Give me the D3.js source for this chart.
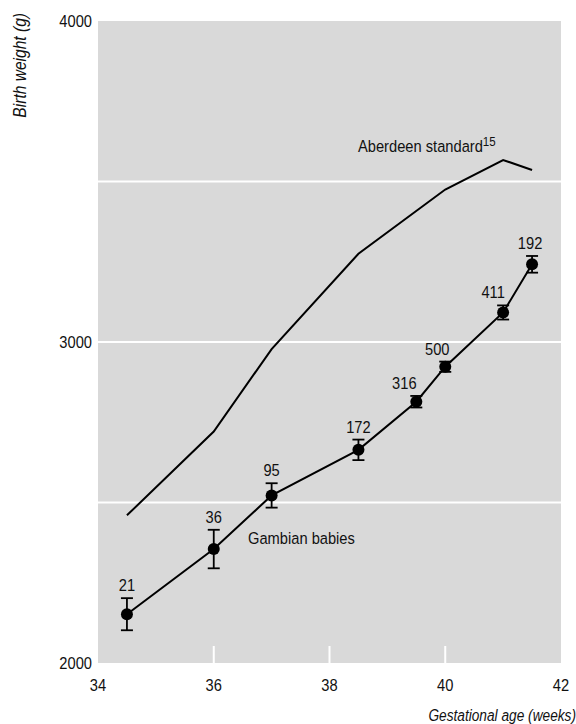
<!DOCTYPE html>
<html>
<head>
<meta charset="utf-8">
<script src="https://cdn.jsdelivr.net/npm/d3@7"></script>
<style>
  html, body { margin: 0; padding: 0; background: #fff; }
  svg text { font-family: "Liberation Sans", Arial, sans-serif; fill: #111; }
</style>
</head>
<body>
<svg id="chart" width="576" height="724"></svg>
<script>
// ---- data ----
const gestWeeks = [34.5, 36, 37, 38.5, 39.5, 40, 41, 41.5];
const gambianMean = [2152, 2355, 2522, 2664, 2814, 2923, 3092, 3242];
const gambianSE = [50, 60, 38, 32, 18, 16, 22, 26];
const sampleSizes = ["21", "36", "95", "172", "316", "500", "411", "192"];
const aberdeenWeeks = [34.5, 36, 37, 38.5, 40, 41, 41.5];
const aberdeenMean = [2460, 2721, 2978, 3275, 3475, 3567, 3536];
const xTicks = [34, 36, 38, 40, 42];
const yTicks = [2000, 3000, 4000];
const gridValues = [2500, 3000, 3500];

// ---- layout ----
const svg = d3.select("#chart");
const x = d3.scaleLinear().domain([34, 42]).range([98, 561]);
const y = d3.scaleLinear().domain([2000, 4000]).range([663, 21]);
const labelShift = [0, 0, 0, 0, -12, -8, -10, -2];
const fs = 16.5;
const squeeze = 0.89;

function txt(parent, px, py, s, opt = {}) {
  const sq = opt.squeeze || squeeze;
  const tr = `translate(${px},${py})` + (opt.rotate ? ` rotate(${opt.rotate})` : "") + ` scale(${sq},1)`;
  const t = parent.append("g").attr("transform", tr).append("text")
    .attr("x", 0).attr("y", 0)
    .attr("text-anchor", opt.anchor || "start")
    .attr("font-size", opt.size || fs);
  if (opt.italic) t.attr("font-style", "italic");
  if (s !== null) t.text(s);
  return t;
}

svg.append("rect")
  .attr("x", x(34)).attr("y", y(4000))
  .attr("width", x(42) - x(34)).attr("height", y(2000) - y(4000))
  .attr("fill", "#d9d9d9");

svg.selectAll("line.grid").data(gridValues).enter().append("line")
  .attr("class", "grid")
  .attr("x1", x(34)).attr("x2", x(42))
  .attr("y1", d => y(d)).attr("y2", d => y(d))
  .attr("stroke", "#fff").attr("stroke-width", 2);

// inner x ticks (white)
svg.selectAll("line.xt").data(xTicks.slice(1, -1)).enter().append("line")
  .attr("class", "xt")
  .attr("x1", d => x(d)).attr("x2", d => x(d))
  .attr("y1", y(2000)).attr("y2", y(2000) - 17)
  .attr("stroke", "#fff").attr("stroke-width", 2);

// axis labels
xTicks.forEach(d => txt(svg, x(d), 691, String(d), { anchor: "middle" }));
yTicks.forEach(d => txt(svg, 92, y(d) + 6, String(d), { anchor: "end" }));

txt(svg, 26, 13, "Birth weight (g)", { anchor: "end", rotate: -90, italic: true, size: 17.5 });
txt(svg, 576, 721, "Gestational age (weeks)", { anchor: "end", italic: true, squeeze: 0.83 });

// Aberdeen line
const aberdeen = aberdeenWeeks.map((w, i) => [w, aberdeenMean[i]]);
const line = d3.line().x(d => x(d[0])).y(d => y(d[1]));
svg.append("path").datum(aberdeen)
  .attr("d", line).attr("fill", "none")
  .attr("stroke", "#000").attr("stroke-width", 2);

// Gambian line
const gambian = gestWeeks.map((w, i) => ({ w, m: gambianMean[i], se: gambianSE[i], n: sampleSizes[i], dx: labelShift[i] }));
svg.append("path").datum(gambian.map(d => [d.w, d.m]))
  .attr("d", line).attr("fill", "none")
  .attr("stroke", "#000").attr("stroke-width", 2);

const g = svg.selectAll("g.pt").data(gambian).enter().append("g").attr("class", "pt");
g.append("line")
  .attr("x1", d => x(d.w)).attr("x2", d => x(d.w))
  .attr("y1", d => y(d.m + d.se)).attr("y2", d => y(d.m - d.se))
  .attr("stroke", "#000").attr("stroke-width", 1.8);
g.append("line")
  .attr("x1", d => x(d.w) - 6).attr("x2", d => x(d.w) + 6)
  .attr("y1", d => y(d.m + d.se)).attr("y2", d => y(d.m + d.se))
  .attr("stroke", "#000").attr("stroke-width", 1.8);
g.append("line")
  .attr("x1", d => x(d.w) - 6).attr("x2", d => x(d.w) + 6)
  .attr("y1", d => y(d.m - d.se)).attr("y2", d => y(d.m - d.se))
  .attr("stroke", "#000").attr("stroke-width", 1.8);
g.append("circle")
  .attr("cx", d => x(d.w)).attr("cy", d => y(d.m)).attr("r", 6)
  .attr("fill", "#000");
gambian.forEach(d => txt(svg, x(d.w) + d.dx, y(d.m + d.se) - 7, d.n, { anchor: "middle" }));

// series labels
txt(svg, 248, 544, "Gambian babies");
const ab = txt(svg, 358, 152, null);
ab.append("tspan").text("Aberdeen standard");
ab.append("tspan").attr("font-size", 13).attr("dy", -6).text("15");
</script>
</body>
</html>
